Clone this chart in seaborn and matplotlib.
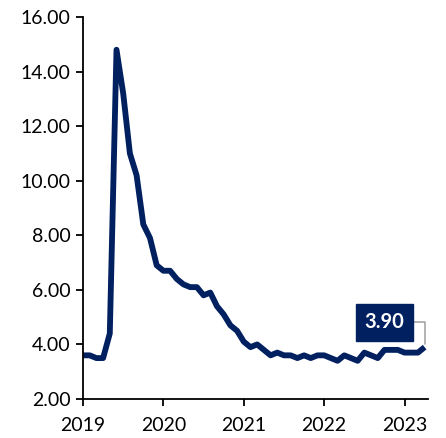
import matplotlib
matplotlib.use("Agg")
import matplotlib.pyplot as plt
import seaborn as sns
import numpy as np

# Data (monthly values)
values = [3.6, 3.6, 3.5, 3.5, 4.4, 14.8, 13.2, 11.0, 10.2, 8.4, 7.9, 6.9,
          6.7, 6.7, 6.4, 6.2, 6.1, 6.1, 5.8, 5.9, 5.4, 5.1, 4.7, 4.5,
          4.1, 3.9, 4.0, 3.8, 3.6, 3.7, 3.6, 3.6, 3.5, 3.6, 3.5, 3.6,
          3.6, 3.5, 3.4, 3.6, 3.5, 3.4, 3.7, 3.6, 3.5, 3.8, 3.8, 3.8,
          3.7, 3.7, 3.7, 3.9]
year_labels = ["2019", "2020", "2021", "2022", "2023"]
y_ticks = [2, 4, 6, 8, 10, 12, 14, 16]

NAVY = "#002060"

sns.set_style("ticks")
plt.rcParams["font.family"] = ["Lato", "DejaVu Sans"]

fig = plt.figure(figsize=(4.46, 4.38), dpi=100)
ax = fig.add_axes([83/446, 1 - 399/438, (428 - 83)/446, (399 - 17)/438])

idx = np.arange(len(values))
sns.lineplot(x=idx, y=values, ax=ax, color=NAVY, linewidth=4.2,
             solid_joinstyle="round", solid_capstyle="butt")

ax.set_xlim(0, 51.5)
ax.set_ylim(2, 16)
ax.set_yticks(y_ticks)
ax.set_yticklabels([f"{v:.2f}" for v in y_ticks])
ax.set_xticks([12 * i for i in range(len(year_labels))])
ax.set_xticklabels(year_labels)
ax.set_xlabel("")
ax.set_ylabel("")

for s in ["top", "right"]:
    ax.spines[s].set_visible(False)
for s in ["left", "bottom"]:
    ax.spines[s].set_color("black")
    ax.spines[s].set_linewidth(1.3)
ax.tick_params(axis="both", direction="out", length=5, width=1.3,
               labelsize=14, colors="black")
ax.tick_params(axis="x", pad=8)
ax.tick_params(axis="y", pad=4)

last_x = idx[-1]
last_y = values[-1]
ax.annotate(f"{last_y:.2f}", xy=(last_x, last_y), xytext=(-29, 18),
            textcoords="offset points", ha="center", va="center",
            fontsize=14.5, fontweight="bold", color="white",
            bbox=dict(boxstyle="square,pad=0.42", fc=NAVY, ec=NAVY),
            arrowprops=dict(arrowstyle="-", color="#a6a6a6", lw=1.2,
                            connectionstyle="angle,angleA=0,angleB=90,rad=0",
                            shrinkA=0, shrinkB=2))

fig.savefig("out.png", dpi=100)
